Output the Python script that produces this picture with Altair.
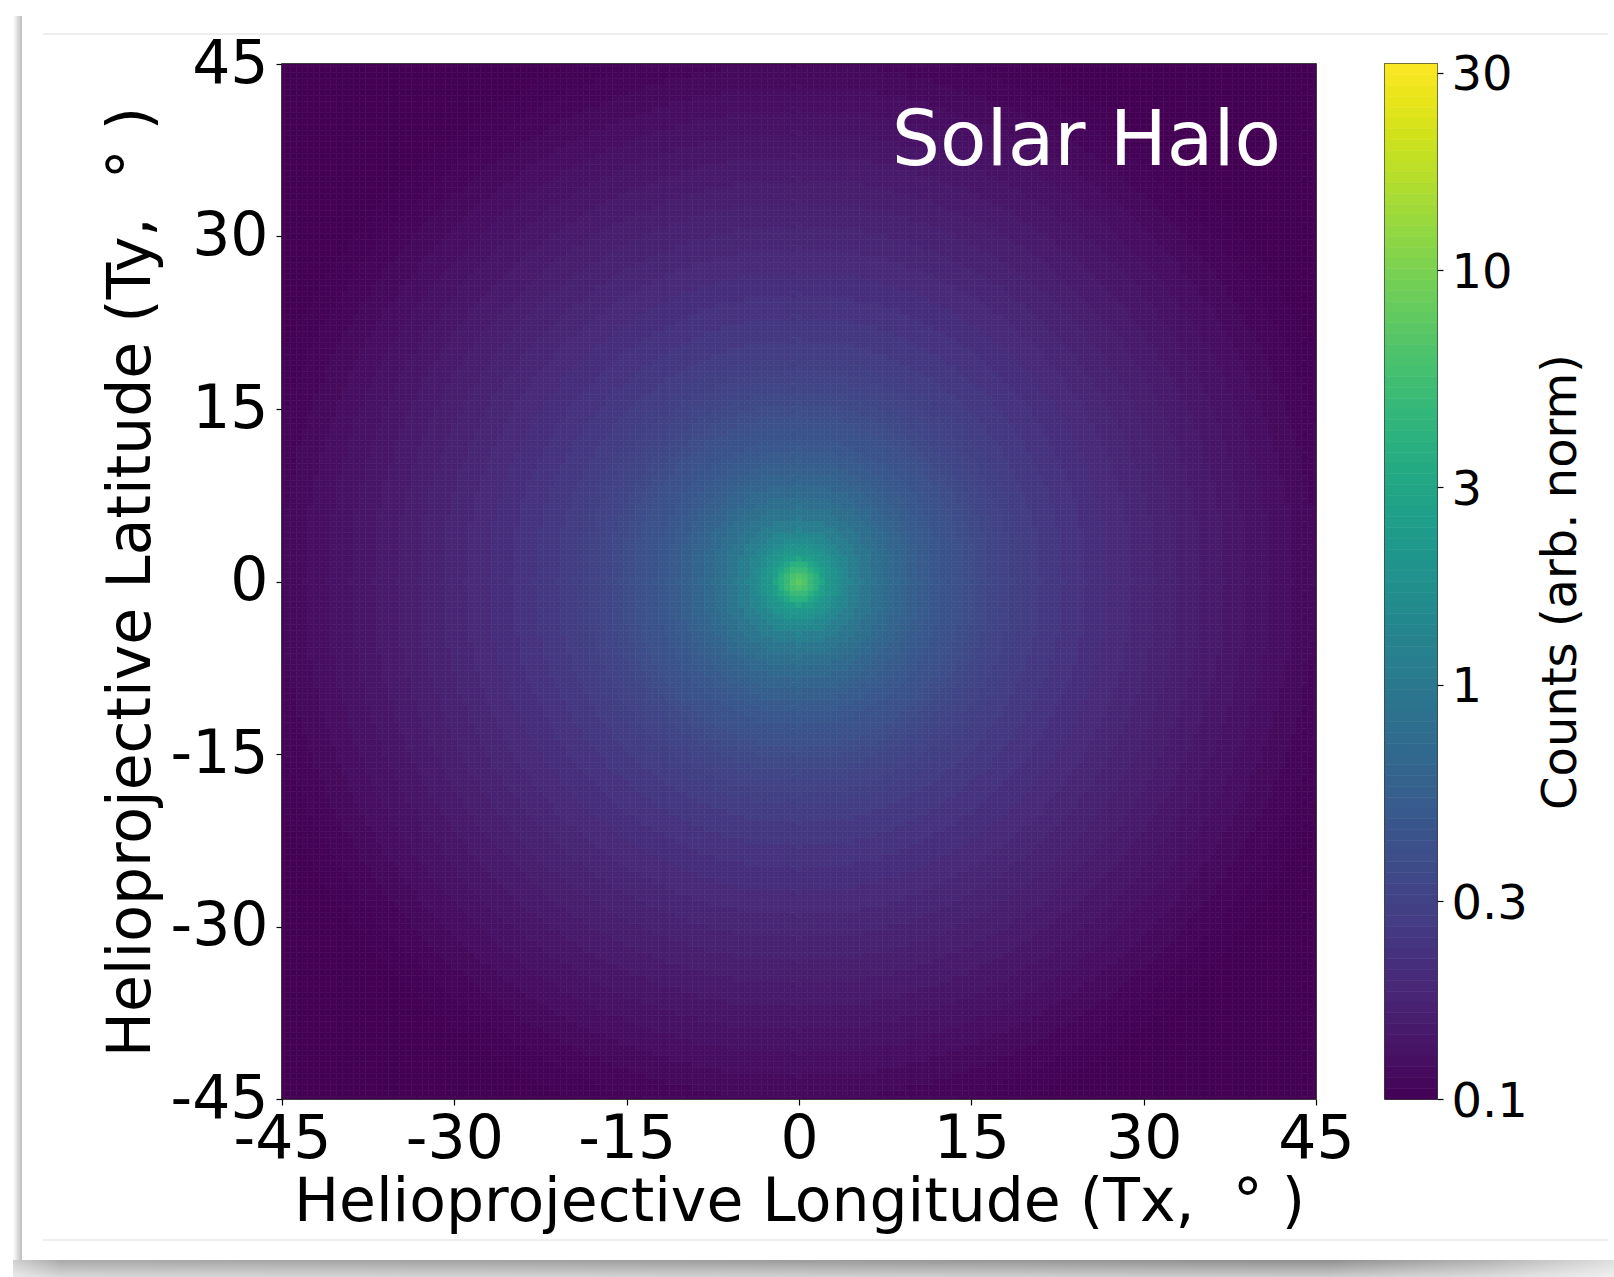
import numpy as np
import pandas as pd
import altair as alt

# ---- data ----
# radial profile of the halo: radius (deg) -> counts (arb. norm)
PROFILE_R = [0, 0.5, 0.7, 1.0, 1.4, 1.8, 2.2, 2.6, 3.0, 3.5, 4, 5, 6, 7, 8, 9, 10,
             11, 12, 13, 14, 15, 16, 17, 18, 19, 20, 22, 24, 26, 28, 30, 32, 34,
             36, 38, 40, 42, 44, 46, 48, 50, 55, 60, 65]
PROFILE_V = [7.5, 6.5, 5.9, 4.9, 3.8, 3.05, 2.5, 2.12, 1.85, 1.58, 1.38, 1.1, 0.93,
             0.8, 0.7, 0.62, 0.56, 0.51, 0.47, 0.435, 0.4, 0.372, 0.347,
             0.325, 0.306, 0.29, 0.275, 0.25, 0.229, 0.21, 0.194, 0.18, 0.168,
             0.157, 0.147, 0.138, 0.129, 0.121, 0.114, 0.108, 0.103, 0.098, 0.09,
             0.085, 0.08]
TX_TICKS = [-45, -30, -15, 0, 15, 30, 45]
TY_TICKS = [-45, -30, -15, 0, 15, 30, 45]
CBAR_TICKS = [0.1, 0.3, 1, 3, 10, 30]
CBAR_DOMAIN = [0.1, 31.5]
CELL = 0.5

# ---- grid built from the radial profile (nearest profile radius) ----
centers = np.round(np.arange(-45, 45 + 1e-9, CELL), 3)
XX, YY = np.meshgrid(centers, centers)
RR = np.hypot(XX, YY)
pr = np.array(PROFILE_R)
pv = np.array(PROFILE_V)
idx = np.abs(RR[..., None] - pr[None, None, :]).argmin(axis=-1)
VV = pv[idx]
df = pd.DataFrame({"x": XX.ravel(), "y": YY.ravel(), "v": VV.ravel()})

# colorbar bands
edges = np.geomspace(CBAR_DOMAIN[0], CBAR_DOMAIN[1], 97)
cb = pd.DataFrame({"lo": edges[:-1], "hi": edges[1:],
                   "mid": np.sqrt(edges[:-1] * edges[1:])})

FONT = "DejaVu Sans"
W, H = 1034, 1035
OX, OY = 282, 64  # plot origin on the page

cscale = alt.Scale(type="log", domain=CBAR_DOMAIN, scheme="viridis", clamp=True)

axis_common = dict(labelFont=FONT, titleFont=FONT, labelColor="black",
                   titleColor="black", tickColor="black", tickSize=6,
                   tickWidth=1.2, domain=False, grid=False,
                   titleFontWeight="normal", labelFlush=False,
                   labelOverlap=False)

heat = alt.Chart(df).transform_calculate(
    x0="datum.x - 0.25", x1="datum.x + 0.25",
    y0="datum.y - 0.25", y1="datum.y + 0.25",
).mark_rect(clip=True, strokeWidth=0.6).encode(
    x=alt.X("x0:Q", scale=alt.Scale(domain=[-45, 45], nice=False, zero=False),
            axis=alt.Axis(values=TX_TICKS, labelExpr="'' + datum.value",
                          title="Helioprojective Longitude (Tx,\u00a0 ° )",
                          labelFontSize=60, titleFontSize=60,
                          labelPadding=5, titlePadding=4, **axis_common)),
    x2="x1:Q",
    y=alt.Y("y0:Q", scale=alt.Scale(domain=[-45, 45], nice=False, zero=False),
            axis=alt.Axis(values=TY_TICKS, labelExpr="'' + datum.value",
                          title="Helioprojective Latitude (Ty,\u00a0 ° )",
                          labelFontSize=60, titleFontSize=60,
                          labelPadding=8, titlePadding=8, **axis_common)),
    y2="y1:Q",
    color=alt.Color("v:Q", scale=cscale, legend=None),
    stroke=alt.Stroke("v:Q", scale=cscale, legend=None),
)

label = alt.Chart(pd.DataFrame({"t": ["Solar Halo"]})).mark_text(
    align="right", baseline="alphabetic", font=FONT, fontSize=76,
    color="white").encode(text="t:N", x=alt.value(1281 - OX), y=alt.value(165 - OY))

one = pd.DataFrame({"a": [0]})


def px(v):
    return alt.value(v - OX)


def py(v):
    return alt.value(v - OY)


line_top = alt.Chart(one).mark_rule(color="#e9e9e9", strokeWidth=1.5).encode(
    x=px(43), x2=px(1608), y=py(34))
line_bot = alt.Chart(one).mark_rule(color="#e9e9e9", strokeWidth=1.5).encode(
    x=px(43), x2=px(1608), y=py(1240))
shadow_left = alt.Chart(one).mark_rect(
    fill=alt.Gradient(gradient="linear", x1=0, x2=1, y1=0, y2=0,
                      stops=[alt.GradientStop(offset=0, color="#ffffff"),
                             alt.GradientStop(offset=1, color="#bdbdbd")])
).encode(x=px(13), x2=px(22), y=py(16), y2=py(1260))
shadow_bot = alt.Chart(one).mark_rect(
    fill=alt.Gradient(gradient="linear", x1=0, x2=1, y1=0, y2=0,
                      stops=[alt.GradientStop(offset=0, color="#d0d0d0"),
                             alt.GradientStop(offset=0.03, color="#a9a9a9"),
                             alt.GradientStop(offset=0.5, color="#9b9b9b"),
                             alt.GradientStop(offset=0.82, color="#8f8f8f"),
                             alt.GradientStop(offset=0.92, color="#b2b2b2"),
                             alt.GradientStop(offset=1, color="#dedede")])
).encode(x=px(13), x2=px(1614), y=py(1260), y2=py(1277))
shadow_fade = alt.Chart(one).mark_rect(
    fill=alt.Gradient(gradient="linear", x1=0, x2=0, y1=0, y2=1,
                      stops=[alt.GradientStop(offset=0, color="rgba(255,255,255,0)"),
                             alt.GradientStop(offset=1, color="rgba(255,255,255,0.55)")])
).encode(x=px(13), x2=px(1614), y=py(1260), y2=py(1277))

left = alt.layer(shadow_left, shadow_bot, shadow_fade, line_top, line_bot,
                 heat, label).properties(width=W, height=H)

cbar = alt.Chart(cb).mark_rect(strokeWidth=0.6).encode(
    y=alt.Y("lo:Q", scale=alt.Scale(type="log", domain=CBAR_DOMAIN, nice=False),
            axis=alt.Axis(orient="right", values=CBAR_TICKS, format="~g",
                          title="Counts (arb. norm)", titleAngle=270,
                          labelFontSize=48, titleFontSize=48, labelOffset=3,
                          labelPadding=8, titlePadding=58, **axis_common)),
    y2="hi:Q",
    x=alt.value(0), x2=alt.value(52),
    color=alt.Color("mid:Q", scale=cscale, legend=None),
    stroke=alt.Stroke("mid:Q", scale=cscale, legend=None),
).properties(width=52, height=H)

chart = alt.hconcat(left, cbar, spacing=69, bounds="flush").resolve_scale(
    color="independent", stroke="independent", y="independent"
).properties(
    autosize=alt.AutoSizeParams(type="none"),
    padding={"left": OX, "top": OY, "right": 1614 - OX, "bottom": 1277 - OY},
    background="white",
).configure_view(stroke="black", strokeWidth=1.5)

chart.save("out.html", embed_options={"renderer": "svg", "actions": False})
